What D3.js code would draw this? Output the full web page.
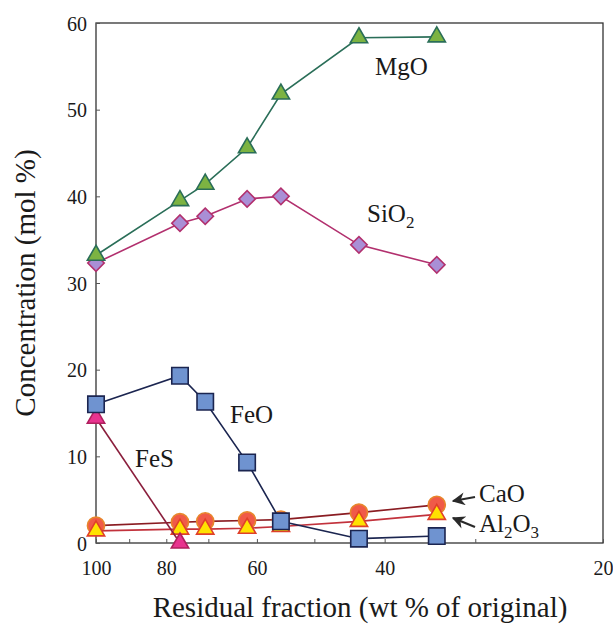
<!DOCTYPE html>
<html>
<head>
<meta charset="utf-8">
<script src="https://cdn.jsdelivr.net/npm/d3@7"></script>
<style>
  body { margin: 0; background: #fff; }
  svg text { font-family: "Liberation Serif", "Times New Roman", serif; fill: #1a1a1a; }
</style>
</head>
<body>
<div id="chart"></div>
<script>
// residual fraction (wt % of original) of each sample
const fraction = [100, 76.6, 70.7, 61.9, 55.6, 43.4, 33.9];

// concentrations (mol %)
const mgo = [33.2, 39.5, 41.4, 45.6, 51.8, 58.3, 58.4];
const sio2 = [32.3, 36.9, 37.7, 39.7, 40.0, 34.4, 32.1];
const feo = [16.0, 19.3, 16.3, 9.3, 2.5, 0.5, 0.8];
const fesFraction = [100, 76.6];
const fes = [14.4, 0.0];
const cao = [2.0, 2.4, 2.5, 2.6, 2.7, 3.5, 4.4];
const al2o3 = [1.4, 1.6, 1.6, 1.7, 1.9, 2.5, 3.3];

const xTicks = [100, 90, 80, 70, 60, 50, 40, 30, 20];
const xTickLabels = [100, 80, 60, 40, 20];
const yTicks = [0, 10, 20, 30, 40, 50, 60];

const width = 613, height = 624;
const margin = { top: 23, right: 10, bottom: 81, left: 96 };
const serif = '"Liberation Serif", "Times New Roman", serif';

const svg = d3.select("#chart")
    .append("svg")
    .attr("width", width)
    .attr("height", height);

// log scale on the x axis, reversed (100 on the left)
const x = d3.scaleLog()
    .domain([100, 20])
    .range([margin.left, width - margin.right]);

const y = d3.scaleLinear()
    .domain([0, 60])
    .range([height - margin.bottom, margin.top]);

// frame
svg.append("rect")
    .attr("x", x(100))
    .attr("y", y(60))
    .attr("width", x(20) - x(100))
    .attr("height", y(0) - y(60))
    .attr("fill", "none")
    .attr("stroke", "#333")
    .attr("stroke-width", 1.3);

// x axis: inward ticks, labels only on some
const xAxis = svg.append("g")
    .attr("transform", `translate(0,${y(0)})`)
    .attr("font-family", serif)
    .call(d3.axisBottom(x).tickValues(xTicks).tickSizeInner(-4).tickSizeOuter(0)
        .tickFormat(d => xTickLabels.includes(d) ? d : ""));
xAxis.select(".domain").remove();
xAxis.selectAll(".tick line").attr("stroke", "#555");
xAxis.selectAll(".tick text")
    .attr("y", 32)
    .attr("dy", 0)
    .style("font-family", serif)
    .style("font-size", "20px");

// y axis
const yAxis = svg.append("g")
    .attr("transform", `translate(${x(100)},0)`)
    .attr("font-family", serif)
    .call(d3.axisLeft(y).tickValues(yTicks).tickSizeInner(-4).tickSizeOuter(0).tickPadding(9));
yAxis.select(".domain").remove();
yAxis.selectAll(".tick line").attr("stroke", "#555");
yAxis.selectAll(".tick text")
    .attr("dy", "0.35em")
    .style("font-family", serif)
    .style("font-size", "20px");

// axis titles
svg.append("text")
    .attr("x", 360)
    .attr("y", 617)
    .attr("text-anchor", "middle")
    .style("font-size", "29px")
    .text("Residual fraction (wt % of original)");

svg.append("text")
    .attr("transform", `translate(35,${(y(0) + y(60)) / 2}) rotate(-90)`)
    .attr("text-anchor", "middle")
    .style("font-size", "29px")
    .text("Concentration (mol %)");

// series, drawn bottom to top
const series = [
    { name: "CaO", xs: fraction, ys: cao, shape: "circle", size: 230, fill: "#f05a48", stroke: "#e8862c", line: "#8a1c22" },
    { name: "Al2O3", xs: fraction, ys: al2o3, shape: "triangle", size: 130, fill: "#ffe100", stroke: "#e0402a", line: "#c2323c" },
    { name: "FeS", xs: fesFraction, ys: fes, shape: "triangle", size: 130, fill: "#e8338f", stroke: "#b0205e", line: "#8a1e3c" },
    { name: "FeO", xs: fraction, ys: feo, shape: "square", size: 270, fill: "#6f93d0", stroke: "#1b2550", line: "#1b2550" },
    { name: "SiO2", xs: fraction, ys: sio2, shape: "diamond", size: 135, fill: "#a98fd6", stroke: "#b2306e", line: "#b2306e" },
    { name: "MgO", xs: fraction, ys: mgo, shape: "triangle", size: 130, fill: "#7cb342", stroke: "#2a6e58", line: "#2a6e58" }
];

const symbols = {
    circle: d3.symbolCircle,
    triangle: d3.symbolTriangle,
    square: d3.symbolSquare,
    diamond: d3.symbolSquare // rotated below
};

const line = d3.line()
    .x(d => x(d[0]))
    .y(d => y(d[1]));

series.forEach(s => {
    const pts = s.xs.map((f, i) => [f, s.ys[i]]);
    const g = svg.append("g");

    g.append("path")
        .datum(pts)
        .attr("fill", "none")
        .attr("stroke", s.line)
        .attr("stroke-width", 1.6)
        .attr("d", line);

    g.selectAll("path.marker")
        .data(pts)
        .enter()
        .append("path")
        .attr("class", "marker")
        .attr("d", d3.symbol().type(symbols[s.shape]).size(s.size))
        .attr("transform", d => `translate(${x(d[0])},${y(d[1])})` + (s.shape === "diamond" ? " rotate(45)" : ""))
        .attr("fill", s.fill)
        .attr("stroke", s.stroke)
        .attr("stroke-width", 1.6);
});

// series labels
function chemLabel(px, py, parts) {
    const t = svg.append("text")
        .attr("x", px)
        .attr("y", py)
        .style("font-size", "25px");
    parts.forEach(p => {
        const span = t.append("tspan").text(p[0]);
        if (p[1]) {
            span.attr("dy", 6).style("font-size", "17px");
        } else if (p[2]) {
            span.attr("dy", -6);
        }
    });
}

chemLabel(375, 75, [["MgO"]]);
chemLabel(367, 222, [["SiO"], ["2", true]]);
chemLabel(230, 423, [["FeO"]]);
chemLabel(135, 467, [["FeS"]]);
chemLabel(479, 502, [["CaO"]]);
chemLabel(479, 532, [["Al"], ["2", true], ["O", false, true], ["3", true]]);

// pointer arrows for CaO and Al2O3
svg.append("defs").append("marker")
    .attr("id", "arrow")
    .attr("viewBox", "0 0 10 10")
    .attr("refX", 9)
    .attr("refY", 5)
    .attr("markerWidth", 6)
    .attr("markerHeight", 6)
    .attr("markerUnits", "strokeWidth")
    .attr("orient", "auto")
    .append("path")
    .attr("d", "M0,0 L10,5 L0,10 L3,5 Z")
    .attr("fill", "#2a2a2a");

[[475, 497, 453, 501], [475, 527, 453, 518]].forEach(a => {
    svg.append("line")
        .attr("x1", a[0]).attr("y1", a[1])
        .attr("x2", a[2]).attr("y2", a[3])
        .attr("stroke", "#2a2a2a")
        .attr("stroke-width", 2.2)
        .attr("marker-end", "url(#arrow)");
});
</script>
</body>
</html>
